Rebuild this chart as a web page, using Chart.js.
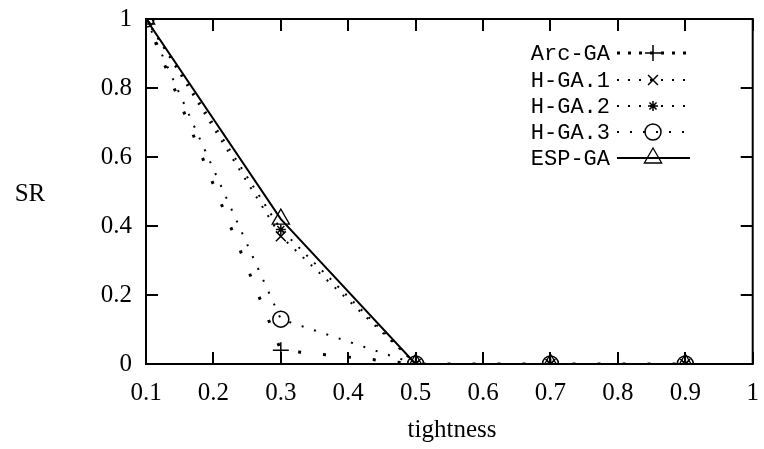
<!DOCTYPE html>
<html>
<head>
<meta charset="utf-8">
<script src="https://cdn.jsdelivr.net/npm/chart.js@4/dist/chart.umd.min.js"></script>
<style>
html,body{margin:0;padding:0;background:#fff;}
#c{display:block;}
</style>
</head>
<body>
<canvas id="c" width="764" height="449"></canvas>
<script>
const tightness = [0.1, 0.3, 0.5, 0.7, 0.9];
const arcGA  = [1, 0.04, 0, 0, 0];
const hGA1   = [1, 0.37, 0, 0, 0];
const hGA2   = [1, 0.39, 0, 0, 0];
const hGA3   = [1, 0.13, 0, 0, 0];
const espGA  = [1, 0.42, 0, 0, 0];
const seriesNames = ['Arc-GA', 'H-GA.1', 'H-GA.2', 'H-GA.3', 'ESP-GA'];
const xTicks = [0.1, 0.2, 0.3, 0.4, 0.5, 0.6, 0.7, 0.8, 0.9, 1];
const yTicks = [0, 0.2, 0.4, 0.6, 0.8, 1];

const toPts = arr => tightness.map((x, i) => ({x: x, y: arr[i]}));

const styles = [
  {pointStyle: 'cross',    radius: 8,  borderWidth: 3, dash: [3, 22], lw: 1.5},
  {pointStyle: 'crossRot', radius: 7,  borderWidth: 2, dash: [2, 9],  lw: 1.5},
  {pointStyle: 'star',     radius: 5,  borderWidth: 2, dash: [2, 9],  lw: 1.5},
  {pointStyle: 'circle',   radius: 8,  borderWidth: 2, dash: [2, 11], lw: 1.5},
  {pointStyle: 'triangle', radius: 10, borderWidth: 2, dash: [],      lw: 1.3}
];
const dataArrays = [arcGA, hGA1, hGA2, hGA3, espGA];

const datasets = dataArrays.map((arr, i) => ({
  label: seriesNames[i],
  data: toPts(arr),
  showLine: true,
  borderColor: '#000',
  backgroundColor: 'rgba(0,0,0,0)',
  borderWidth: styles[i].borderWidth,
  borderDash: styles[i].dash,
  borderCapStyle: 'butt',
  pointStyle: styles[i].pointStyle,
  pointRadius: styles[i].radius,
  pointBorderWidth: styles[i].lw,
  pointBorderColor: '#000',
  pointBackgroundColor: 'rgba(0,0,0,0)',
  tension: 0
}));

const serif = "'Liberation Serif', 'Times New Roman', serif";
const mono = "'Liberation Mono', 'DejaVu Sans Mono', monospace";

const framePlugin = {
  id: 'frame',
  afterDatasetsDraw(chart) {
    const ctx = chart.ctx, a = chart.chartArea;
    const xs = chart.scales.x, ys = chart.scales.y;
    ctx.save();
    ctx.strokeStyle = '#000';
    ctx.lineWidth = 2;
    ctx.setLineDash([]);
    ctx.strokeRect(a.left, a.top, a.right - a.left, a.bottom - a.top);
    const L = 12;
    ctx.lineWidth = 2;
    ctx.beginPath();
    xTicks.forEach(v => {
      const px = Math.round(xs.getPixelForValue(v));
      ctx.moveTo(px, a.bottom); ctx.lineTo(px, a.bottom - L);
      ctx.moveTo(px, a.top); ctx.lineTo(px, a.top + L);
    });
    yTicks.forEach(v => {
      const py = Math.round(ys.getPixelForValue(v));
      ctx.moveTo(a.left, py); ctx.lineTo(a.left + L, py);
      ctx.moveTo(a.right, py); ctx.lineTo(a.right - L, py);
    });
    ctx.stroke();

    // axis titles
    ctx.fillStyle = '#000';
    ctx.font = '25px ' + serif;
    ctx.textAlign = 'center';
    ctx.textBaseline = 'middle';
    ctx.fillText('tightness', 452, 430);
    ctx.fillText('SR', 30, 194);

    // legend
    ctx.font = '22px ' + mono;
    const rows = [53, 80, 106, 132, 158];
    const textRight = 610, lineL = 617, lineR = 690, mid = 653;
    rows.forEach((ry, i) => {
      ctx.fillStyle = '#000';
      ctx.textAlign = 'right';
      ctx.textBaseline = 'middle';
      ctx.fillText(seriesNames[i], textRight, ry + 1);
      const st = styles[i];
      ctx.save();
      ctx.lineWidth = st.borderWidth;
      ctx.setLineDash(i === 0 ? [3, 8] : st.dash);
      ctx.beginPath();
      ctx.moveTo(lineL, ry); ctx.lineTo(lineR, ry);
      ctx.stroke();
      ctx.restore();
      ctx.save();
      ctx.lineWidth = st.lw;
      ctx.strokeStyle = '#000';
      ctx.fillStyle = 'rgba(0,0,0,0)';
      ctx.setLineDash([]);
      Chart.helpers.drawPoint(ctx, {pointStyle: st.pointStyle, radius: st.radius, rotation: 0, borderWidth: st.lw}, mid, ry);
      ctx.restore();
    });
    ctx.restore();
  }
};

const bgPlugin = {
  id: 'bg',
  beforeDraw(chart) {
    const ctx = chart.ctx;
    ctx.save();
    ctx.fillStyle = '#fff';
    ctx.fillRect(0, 0, chart.width, chart.height);
    ctx.restore();
  }
};

new Chart(document.getElementById('c'), {
  type: 'scatter',
  data: {datasets},
  options: {
    responsive: false,
    animation: false,
    devicePixelRatio: 1,
    layout: {padding: {left: 0, right: 11, top: 19, bottom: 0}},
    plugins: {legend: {display: false}, tooltip: {enabled: false}},
    scales: {
      x: {
        type: 'linear', min: 0.1, max: 1,
        afterFit(s) { s.height = 85; s.paddingLeft = 0; s.paddingRight = 0; },
        afterBuildTicks(s) { s.ticks = xTicks.map(v => ({value: v})); },
        grid: {display: false, drawTicks: false},
        border: {display: false},
        ticks: {
          color: '#000', padding: 14,
          font: {family: serif, size: 25},
          maxRotation: 0, autoSkip: false,
          callback: v => String(v)
        }
      },
      y: {
        type: 'linear', min: 0, max: 1,
        afterFit(s) { s.width = 146; s.paddingTop = 0; s.paddingBottom = 0; },
        afterBuildTicks(s) { s.ticks = yTicks.map(v => ({value: v})); },
        grid: {display: false, drawTicks: false},
        border: {display: false},
        ticks: {
          color: '#000', padding: 14,
          font: {family: serif, size: 25},
          autoSkip: false,
          callback: v => String(v)
        }
      }
    }
  },
  plugins: [bgPlugin, framePlugin]
});
</script>
</body>
</html>
